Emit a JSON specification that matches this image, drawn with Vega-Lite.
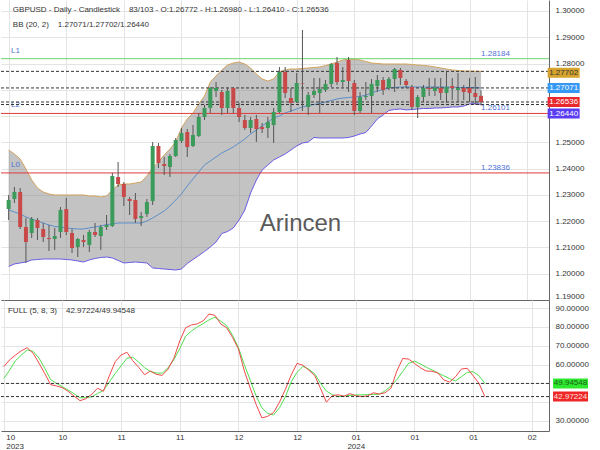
{
 "$schema": "https://vega.github.io/schema/vega-lite/v6.json",
 "padding": 0,
 "background": "white",
 "spacing": 0,
 "config": {
  "view": {"stroke": null},
  "font": "Liberation Sans",
  "axis": {"labelFont": "Liberation Sans", "labelFontSize": 8, "labelColor": "#333333", "gridColor": "#e4e4e4", "domainColor": "#666666", "ticks": false, "title": null, "labelOverlap": false, "labelBound": false}
 },
 "datasets": {
  "bars": [
   {"i":0,"o":1.22464,"h":1.22997,"l":1.22045,"c":1.22806,"u":1.24709,"m":1.22426,"b":1.20276,"k":58.8,"d":52.5},
   {"i":1,"o":1.22845,"h":1.23301,"l":1.22692,"c":1.23111,"u":1.24557,"m":1.22350,"b":1.20371,"k":62.4,"d":57},
   {"i":2,"o":1.23111,"h":1.23263,"l":1.21702,"c":1.21779,"u":1.24367,"m":1.22273,"b":1.20409,"k":65,"d":62},
   {"i":3,"o":1.21779,"h":1.22121,"l":1.20409,"c":1.21207,"u":1.23986,"m":1.22159,"b":1.20447,"k":67.3,"d":65},
   {"i":4,"o":1.21550,"h":1.22159,"l":1.21359,"c":1.22083,"u":1.23567,"m":1.22083,"b":1.20523,"k":68.9,"d":67.7},
   {"i":5,"o":1.22045,"h":1.22121,"l":1.21283,"c":1.21741,"u":1.23263,"m":1.22006,"b":1.20542,"k":66,"d":67},
   {"i":6,"o":1.21702,"h":1.21931,"l":1.21207,"c":1.21398,"u":1.23111,"m":1.21931,"b":1.20561,"k":60.8,"d":63.5},
   {"i":7,"o":1.21359,"h":1.21855,"l":1.20865,"c":1.21321,"u":1.23035,"m":1.21855,"b":1.20561,"k":55.2,"d":58},
   {"i":8,"o":1.21321,"h":1.21741,"l":1.20903,"c":1.21436,"u":1.22997,"m":1.21798,"b":1.20561,"k":49.3,"d":52},
   {"i":9,"o":1.21588,"h":1.22540,"l":1.21359,"c":1.22426,"u":1.22997,"m":1.21779,"b":1.20561,"k":48.6,"d":50},
   {"i":10,"o":1.22464,"h":1.22883,"l":1.21474,"c":1.21588,"u":1.22997,"m":1.21741,"b":1.20542,"k":47.7,"d":48.2},
   {"i":11,"o":1.21550,"h":1.21702,"l":1.20788,"c":1.20979,"u":1.22997,"m":1.21722,"b":1.20523,"k":45.7,"d":46.4},
   {"i":12,"o":1.21017,"h":1.21359,"l":1.20636,"c":1.21321,"u":1.22997,"m":1.21702,"b":1.20485,"k":43.2,"d":44.5},
   {"i":13,"o":1.21283,"h":1.21474,"l":1.21017,"c":1.21207,"u":1.22997,"m":1.21702,"b":1.20447,"k":40.8,"d":42.3},
   {"i":14,"o":1.21093,"h":1.21664,"l":1.20827,"c":1.21588,"u":1.22959,"m":1.21741,"b":1.20523,"k":41.8,"d":42.4},
   {"i":15,"o":1.21588,"h":1.21931,"l":1.21398,"c":1.21474,"u":1.22959,"m":1.21779,"b":1.20580,"k":44.2,"d":42.8},
   {"i":16,"o":1.21436,"h":1.21855,"l":1.20903,"c":1.21779,"u":1.22921,"m":1.21817,"b":1.20618,"k":47.4,"d":44.6},
   {"i":17,"o":1.21779,"h":1.22235,"l":1.21664,"c":1.21855,"u":1.22959,"m":1.21874,"b":1.20636,"k":45.8,"d":46.3},
   {"i":18,"o":1.21817,"h":1.23834,"l":1.21779,"c":1.23720,"u":1.23187,"m":1.21893,"b":1.20598,"k":54,"d":50.7},
   {"i":19,"o":1.23682,"h":1.24252,"l":1.23301,"c":1.23415,"u":1.23377,"m":1.21931,"b":1.20504,"k":61.5,"d":55.2},
   {"i":20,"o":1.23415,"h":1.23491,"l":1.22578,"c":1.22921,"u":1.23415,"m":1.21931,"b":1.20409,"k":65,"d":59.3},
   {"i":21,"o":1.22845,"h":1.22921,"l":1.22235,"c":1.22768,"u":1.23415,"m":1.21931,"b":1.20428,"k":66.5,"d":63.3},
   {"i":22,"o":1.22806,"h":1.23073,"l":1.21931,"c":1.22083,"u":1.23453,"m":1.21931,"b":1.20447,"k":62,"d":63.9},
   {"i":23,"o":1.22121,"h":1.22350,"l":1.21817,"c":1.22197,"u":1.23491,"m":1.21931,"b":1.20428,"k":58.5,"d":61.3},
   {"i":24,"o":1.22273,"h":1.22845,"l":1.22159,"c":1.22730,"u":1.23720,"m":1.22006,"b":1.20409,"k":54.6,"d":58.3},
   {"i":25,"o":1.22768,"h":1.25014,"l":1.22616,"c":1.24862,"u":1.24024,"m":1.22121,"b":1.20219,"k":56.5,"d":56.3},
   {"i":26,"o":1.24862,"h":1.24976,"l":1.24024,"c":1.24214,"u":1.24252,"m":1.22254,"b":1.20199,"k":54.8,"d":55.5},
   {"i":27,"o":1.24176,"h":1.24443,"l":1.23758,"c":1.24100,"u":1.24519,"m":1.22388,"b":1.20180,"k":54.2,"d":55.4},
   {"i":28,"o":1.24062,"h":1.24557,"l":1.23682,"c":1.24481,"u":1.24747,"m":1.22578,"b":1.20161,"k":57.5,"d":58.2},
   {"i":29,"o":1.24481,"h":1.25166,"l":1.24443,"c":1.25090,"u":1.25014,"m":1.22806,"b":1.20142,"k":63.3,"d":62.6},
   {"i":30,"o":1.25052,"h":1.25547,"l":1.24976,"c":1.25356,"u":1.25547,"m":1.23035,"b":1.20180,"k":72.5,"d":68.4},
   {"i":31,"o":1.25394,"h":1.25508,"l":1.24443,"c":1.24824,"u":1.25889,"m":1.23339,"b":1.20390,"k":79.5,"d":75},
   {"i":32,"o":1.24862,"h":1.25661,"l":1.24824,"c":1.25280,"u":1.26117,"m":1.23605,"b":1.20542,"k":81,"d":77.8},
   {"i":33,"o":1.25242,"h":1.26119,"l":1.25204,"c":1.25967,"u":1.26460,"m":1.23872,"b":1.20693,"k":81.6,"d":80},
   {"i":34,"o":1.25967,"h":1.26422,"l":1.25851,"c":1.26308,"u":1.26764,"m":1.24138,"b":1.20846,"k":83.2,"d":81.7},
   {"i":35,"o":1.26308,"h":1.27107,"l":1.26119,"c":1.27069,"u":1.27297,"m":1.24290,"b":1.21017,"k":86.8,"d":83.7},
   {"i":36,"o":1.26955,"h":1.27297,"l":1.26726,"c":1.27069,"u":1.27526,"m":1.24443,"b":1.21207,"k":86.1,"d":85.1},
   {"i":37,"o":1.26917,"h":1.26993,"l":1.26043,"c":1.26308,"u":1.27754,"m":1.24595,"b":1.21531,"k":81.5,"d":83},
   {"i":38,"o":1.26308,"h":1.27069,"l":1.26119,"c":1.26955,"u":1.27944,"m":1.24709,"b":1.21607,"k":79.5,"d":80.6},
   {"i":39,"o":1.27069,"h":1.27107,"l":1.26119,"c":1.26308,"u":1.28020,"m":1.24824,"b":1.21741,"k":74.4,"d":75.5},
   {"i":40,"o":1.26308,"h":1.26498,"l":1.25775,"c":1.25967,"u":1.28058,"m":1.24976,"b":1.22045,"k":68.3,"d":69},
   {"i":41,"o":1.25851,"h":1.26043,"l":1.25470,"c":1.25547,"u":1.27982,"m":1.25128,"b":1.22426,"k":56.7,"d":60},
   {"i":42,"o":1.25547,"h":1.25967,"l":1.25356,"c":1.25851,"u":1.27830,"m":1.25318,"b":1.23073,"k":47.6,"d":51.8},
   {"i":43,"o":1.25890,"h":1.26043,"l":1.25014,"c":1.25508,"u":1.27602,"m":1.25470,"b":1.23567,"k":38.9,"d":43.5},
   {"i":44,"o":1.25585,"h":1.25737,"l":1.25356,"c":1.25508,"u":1.27411,"m":1.25623,"b":1.23948,"k":31.6,"d":37},
   {"i":45,"o":1.25547,"h":1.25967,"l":1.25166,"c":1.25775,"u":1.27335,"m":1.25775,"b":1.24138,"k":32.5,"d":34},
   {"i":46,"o":1.25661,"h":1.26308,"l":1.24976,"c":1.26157,"u":1.27411,"m":1.25928,"b":1.24329,"k":34.5,"d":33.2},
   {"i":47,"o":1.26157,"h":1.27868,"l":1.26119,"c":1.27678,"u":1.27678,"m":1.26005,"b":1.24443,"k":40,"d":37},
   {"i":48,"o":1.27678,"h":1.27868,"l":1.26688,"c":1.26879,"u":1.27754,"m":1.26119,"b":1.24557,"k":46.8,"d":42.8},
   {"i":49,"o":1.26688,"h":1.27069,"l":1.26157,"c":1.26498,"u":1.27792,"m":1.26195,"b":1.24709,"k":54.5,"d":50.8},
   {"i":50,"o":1.26536,"h":1.27640,"l":1.26498,"c":1.27259,"u":1.27792,"m":1.26270,"b":1.24862,"k":60.6,"d":55.9},
   {"i":51,"o":1.27259,"h":1.29276,"l":1.26195,"c":1.27240,"u":1.27811,"m":1.26346,"b":1.24976,"k":59.6,"d":59},
   {"i":52,"o":1.26346,"h":1.26917,"l":1.26043,"c":1.26802,"u":1.27830,"m":1.26403,"b":1.25014,"k":57,"d":57.5},
   {"i":53,"o":1.26802,"h":1.27449,"l":1.26688,"c":1.26955,"u":1.27849,"m":1.26441,"b":1.25185,"k":54.2,"d":55},
   {"i":54,"o":1.26879,"h":1.27449,"l":1.26119,"c":1.27031,"u":1.27868,"m":1.26479,"b":1.25166,"k":47.2,"d":50},
   {"i":55,"o":1.26993,"h":1.27373,"l":1.26917,"c":1.27221,"u":1.27925,"m":1.26536,"b":1.25166,"k":40,"d":45.9},
   {"i":56,"o":1.27221,"h":1.28020,"l":1.27107,"c":1.27982,"u":1.27982,"m":1.26593,"b":1.25166,"k":43.5,"d":44},
   {"i":57,"o":1.28020,"h":1.28249,"l":1.27183,"c":1.27297,"u":1.28058,"m":1.26650,"b":1.25166,"k":43.9,"d":42.9},
   {"i":58,"o":1.27297,"h":1.27868,"l":1.27107,"c":1.27373,"u":1.28134,"m":1.26688,"b":1.25166,"k":43.2,"d":43.2},
   {"i":59,"o":1.28134,"h":1.28249,"l":1.26917,"c":1.27335,"u":1.28173,"m":1.26707,"b":1.25185,"k":44.5,"d":43.6},
   {"i":60,"o":1.27259,"h":1.27373,"l":1.26043,"c":1.26195,"u":1.28153,"m":1.26726,"b":1.25242,"k":43.4,"d":43.8},
   {"i":61,"o":1.26195,"h":1.26917,"l":1.26119,"c":1.26726,"u":1.28134,"m":1.26745,"b":1.25318,"k":43,"d":43.9},
   {"i":62,"o":1.26726,"h":1.27297,"l":1.26612,"c":1.26764,"u":1.28077,"m":1.26802,"b":1.25375,"k":43.3,"d":44},
   {"i":63,"o":1.26764,"h":1.27411,"l":1.26119,"c":1.27221,"u":1.28020,"m":1.26879,"b":1.25623,"k":45,"d":44.1},
   {"i":64,"o":1.27145,"h":1.27564,"l":1.26917,"c":1.27373,"u":1.28001,"m":1.26955,"b":1.25889,"k":44.3,"d":44.2},
   {"i":65,"o":1.27373,"h":1.27487,"l":1.26802,"c":1.26993,"u":1.27982,"m":1.27012,"b":1.26043,"k":45,"d":46},
   {"i":66,"o":1.27069,"h":1.27487,"l":1.26993,"c":1.27411,"u":1.27982,"m":1.27069,"b":1.26213,"k":47.4,"d":48.6},
   {"i":67,"o":1.27411,"h":1.27830,"l":1.26917,"c":1.27792,"u":1.27982,"m":1.27088,"b":1.26251,"k":56.5,"d":52},
   {"i":68,"o":1.27754,"h":1.27830,"l":1.27183,"c":1.27449,"u":1.27982,"m":1.27107,"b":1.26270,"k":63.2,"d":56.3},
   {"i":69,"o":1.27335,"h":1.27411,"l":1.27069,"c":1.27183,"u":1.27982,"m":1.27107,"b":1.26233,"k":62.9,"d":60.6},
   {"i":70,"o":1.27107,"h":1.27183,"l":1.26233,"c":1.26346,"u":1.27963,"m":1.27107,"b":1.26251,"k":60.6,"d":61.8},
   {"i":71,"o":1.26346,"h":1.26802,"l":1.25928,"c":1.26726,"u":1.27944,"m":1.27107,"b":1.26270,"k":58.3,"d":60.3},
   {"i":72,"o":1.26726,"h":1.27183,"l":1.26536,"c":1.27069,"u":1.27925,"m":1.27107,"b":1.26289,"k":56.5,"d":58.6},
   {"i":73,"o":1.27069,"h":1.27449,"l":1.26764,"c":1.27031,"u":1.27906,"m":1.27107,"b":1.26289,"k":56.4,"d":57.1},
   {"i":74,"o":1.26955,"h":1.27449,"l":1.26764,"c":1.27069,"u":1.27868,"m":1.27107,"b":1.26308,"k":55.5,"d":55.5},
   {"i":75,"o":1.27069,"h":1.27449,"l":1.26612,"c":1.26879,"u":1.27830,"m":1.27107,"b":1.26308,"k":51.8,"d":54},
   {"i":76,"o":1.26879,"h":1.27678,"l":1.26498,"c":1.27107,"u":1.27792,"m":1.27107,"b":1.26327,"k":50.7,"d":52.5},
   {"i":77,"o":1.27145,"h":1.27449,"l":1.26612,"c":1.27069,"u":1.27754,"m":1.27107,"b":1.26346,"k":53.5,"d":51.3},
   {"i":78,"o":1.26993,"h":1.27640,"l":1.26536,"c":1.27069,"u":1.27735,"m":1.27088,"b":1.26346,"k":57.6,"d":53.5},
   {"i":79,"o":1.27069,"h":1.27183,"l":1.26612,"c":1.26917,"u":1.27716,"m":1.27088,"b":1.26384,"k":58,"d":55.8},
   {"i":80,"o":1.27069,"h":1.27449,"l":1.26536,"c":1.26879,"u":1.27716,"m":1.27088,"b":1.26460,"k":54,"d":56.2},
   {"i":81,"o":1.26879,"h":1.27487,"l":1.26422,"c":1.26726,"u":1.27710,"m":1.27080,"b":1.26479,"k":50,"d":54},
   {"i":82,"o":1.26772,"h":1.26980,"l":1.26410,"c":1.26536,"u":1.27702,"m":1.27071,"b":1.26440,"k":42.97224,"d":49.94548}
  ],
  "levels": [
   {"name":"L1","v":1.28184},
   {"name":"L2","v":1.26101},
   {"name":"L0","v":1.23836}
  ],
  "current": [
   {"s":"upper","v":1.27702},
   {"s":"mid","v":1.27071},
   {"s":"close","v":1.26536},
   {"s":"lower","v":1.26440}
  ],
  "stochNow": [
   {"s":"D","v":49.94548},
   {"s":"K","v":42.97224}
  ]
 },
 "vconcat": [
  {
   "width": 548,
   "height": 300,
   "layer": [
    {
     "data": {"name": "bars"},
     "mark": {"type": "area", "color": "#888888", "opacity": 0.5},
     "encoding": {
      "x": {"field": "i", "type": "quantitative", "title": null,
            "scale": {"domain": [-0.46, 92.93], "nice": false, "zero": false},
            "axis": {"orient": "bottom", "values": [0,10,20,30,40,50,60,70,80,90], "tickCount": 50, "labels": false, "ticks": false, "domain": true, "grid": true, "title": null}},
      "y": {"field": "u", "type": "quantitative", "title": null,
            "scale": {"domain": [1.19, 1.30418], "nice": false, "zero": false},
            "axis": {"orient": "right", "values": [1.19,1.2,1.21,1.22,1.23,1.24,1.25,1.26,1.27,1.28,1.29,1.3], "tickCount": 50, "labelExpr": "datum.value == 1.26 || datum.value == 1.27 ? '' : format(datum.value, '.5f')", "labelOverlap": false, "labelFlush": true, "labelPadding": 6, "grid": true, "title": null}},
      "y2": {"field": "b"}
     }
    },
    {
     "data": {"values": [{}]},
     "mark": {"type": "text", "align": "center", "baseline": "middle", "fontSize": 24, "color": "#5a5a5a"},
     "encoding": {"x": {"datum": 50.66}, "y": {"datum": 1.21893}, "text": {"value": "Arincen"}}
    },
    {
     "data": {"name": "bars"},
     "mark": {"type": "line", "color": "#d3a35c", "strokeWidth": 1},
     "encoding": {"x": {"field": "i", "type": "quantitative", "title": null}, "y": {"field": "u", "type": "quantitative", "title": null}}
    },
    {
     "data": {"name": "bars"},
     "mark": {"type": "line", "color": "#6a5ce6", "strokeWidth": 1},
     "encoding": {"x": {"field": "i", "type": "quantitative", "title": null}, "y": {"field": "b", "type": "quantitative", "title": null}}
    },
    {
     "data": {"name": "bars"},
     "mark": {"type": "line", "color": "#5b8fc9", "strokeWidth": 1},
     "encoding": {"x": {"field": "i", "type": "quantitative", "title": null}, "y": {"field": "m", "type": "quantitative", "title": null}}
    },
    {
     "data": {"name": "levels"},
     "mark": {"type": "rule", "strokeWidth": 1},
     "encoding": {
      "y": {"field": "v", "type": "quantitative", "title": null},
      "color": {"field": "name", "type": "nominal", "scale": {"domain": ["L1","L2","L0"], "range": ["#6cd46c","#e03a3a","#e03a3a"]}, "legend": null}
     }
    },
    {
     "data": {"name": "levels"},
     "mark": {"type": "text", "align": "left", "baseline": "middle", "fontSize": 8, "color": "#4f72d6", "dy": -8},
     "encoding": {"x": {"datum": 0.4}, "y": {"field": "v", "type": "quantitative", "title": null}, "text": {"field": "name"}}
    },
    {
     "data": {"name": "levels"},
     "mark": {"type": "text", "align": "left", "baseline": "middle", "fontSize": 8, "color": "#4f72d6", "dy": -5},
     "encoding": {"x": {"datum": 82.0}, "y": {"field": "v", "type": "quantitative", "title": null}, "text": {"field": "v", "format": ".5f"}}
    },
    {
     "data": {"name": "current"},
     "mark": {"type": "rule", "color": "#333333", "strokeWidth": 1, "strokeDash": [3, 2]},
     "encoding": {"y": {"field": "v", "type": "quantitative", "title": null}}
    },
    {
     "data": {"name": "bars"},
     "mark": {"type": "rule", "color": "#555555", "strokeWidth": 1},
     "encoding": {"x": {"field": "i", "type": "quantitative", "title": null}, "y": {"field": "l", "type": "quantitative", "title": null}, "y2": {"field": "h"}}
    },
    {
     "data": {"name": "bars"},
     "mark": {"type": "bar", "width": 4},
     "encoding": {
      "x": {"field": "i", "type": "quantitative", "title": null},
      "y": {"field": "o", "type": "quantitative", "title": null},
      "y2": {"field": "c"},
      "color": {"condition": {"test": "datum.c >= datum.o", "value": "#3b9b5a"}, "value": "#c94848"}
     }
    },
    {
     "data": {"values": [{}]},
     "mark": {"type": "text", "align": "left", "baseline": "middle", "fontSize": 8, "color": "#333333"},
     "encoding": {"x": {"datum": 0.73}, "y": {"datum": 1.30037}, "text": {"value": "GBPUSD - Daily - Candlestick\u00a0\u00a0\u00a0 83/103 - O:1.26772 - H:1.26980 - L:1.26410 - C:1.26536"}}
    },
    {
     "data": {"values": [{}]},
     "mark": {"type": "text", "align": "left", "baseline": "middle", "fontSize": 8, "color": "#333333"},
     "encoding": {"x": {"datum": 0.73}, "y": {"datum": 1.29467}, "text": {"value": "BB (20, 2)\u00a0\u00a0\u00a0 1.27071/1.27702/1.26440"}}
    },
    {
     "data": {"values": [{}]},
     "mark": {"type": "tick", "orient": "horizontal", "size": 32, "thickness": 10, "color": "#d6a32c", "opacity": 1, "yOffset": 1.5},
     "encoding": {"x": {"datum": 96.34}, "y": {"datum": 1.27702}}
    },
    {
     "data": {"values": [{}]},
     "mark": {"type": "text", "align": "center", "baseline": "middle", "fontSize": 8, "color": "#333333", "yOffset": 1.5},
     "encoding": {"x": {"datum": 96.34}, "y": {"datum": 1.27702}, "text": {"value": "1.27702"}}
    },
    {
     "data": {"values": [{}]},
     "mark": {"type": "tick", "orient": "horizontal", "size": 32, "thickness": 10, "color": "#3598f5", "opacity": 1},
     "encoding": {"x": {"datum": 96.34}, "y": {"datum": 1.27071}}
    },
    {
     "data": {"values": [{}]},
     "mark": {"type": "text", "align": "center", "baseline": "middle", "fontSize": 8, "color": "#ffffff"},
     "encoding": {"x": {"datum": 96.34}, "y": {"datum": 1.27071}, "text": {"value": "1.27071"}}
    },
    {
     "data": {"values": [{}]},
     "mark": {"type": "tick", "orient": "horizontal", "size": 32, "thickness": 10, "color": "#e8282d", "opacity": 1},
     "encoding": {"x": {"datum": 96.34}, "y": {"datum": 1.26536}}
    },
    {
     "data": {"values": [{}]},
     "mark": {"type": "text", "align": "center", "baseline": "middle", "fontSize": 8, "color": "#ffffff"},
     "encoding": {"x": {"datum": 96.34}, "y": {"datum": 1.26536}, "text": {"value": "1.26536"}}
    },
    {
     "data": {"values": [{}]},
     "mark": {"type": "tick", "orient": "horizontal", "size": 32, "thickness": 10, "color": "#5a3df2", "opacity": 1, "yOffset": 9},
     "encoding": {"x": {"datum": 96.34}, "y": {"datum": 1.2644}}
    },
    {
     "data": {"values": [{}]},
     "mark": {"type": "text", "align": "center", "baseline": "middle", "fontSize": 8, "color": "#ffffff", "yOffset": 9},
     "encoding": {"x": {"datum": 96.34}, "y": {"datum": 1.2644}, "text": {"value": "1.26440"}}
    }
   ]
  },
  {
   "width": 548,
   "height": 131,
   "layer": [
    {
     "data": {"name": "bars"},
     "mark": {"type": "line", "color": "#4ee04e", "strokeWidth": 1},
     "encoding": {
      "x": {"field": "i", "type": "quantitative", "title": null,
            "scale": {"domain": [-0.46, 92.93], "nice": false, "zero": false},
            "axis": {"orient": "bottom", "values": [0,10,20,30,40,50,60,70,80,90], "tickCount": 50, "grid": true, "ticks": false, "domain": true, "labelPadding": 2, "labelLineHeight": 9, "labelFlush": 5, "labelFlushOffset": -2,
                     "labelExpr": "datum.value == 0 ? ['10','2023'] : datum.value == 60 ? ['01','2024'] : datum.value < 20 ? '10' : datum.value < 40 ? '11' : datum.value < 60 ? '12' : datum.value < 90 ? '01' : '02'", "title": null}},
      "y": {"field": "d", "type": "quantitative", "title": null,
            "scale": {"domain": [24.69, 94.25], "nice": false, "zero": false},
            "axis": {"orient": "right", "values": [30,40,50,60,70,80,90], "tickCount": 50, "labelExpr": "datum.value == 40 || datum.value == 50 ? '' : format(datum.value, '.5f')", "labelOverlap": false, "labelPadding": 6, "grid": true, "title": null}}
     }
    },
    {
     "data": {"name": "bars"},
     "mark": {"type": "line", "color": "#f04a4a", "strokeWidth": 1},
     "encoding": {"x": {"field": "i", "type": "quantitative", "title": null}, "y": {"field": "k", "type": "quantitative", "title": null}}
    },
    {
     "data": {"name": "stochNow"},
     "mark": {"type": "rule", "color": "#333333", "strokeWidth": 1, "strokeDash": [3, 2]},
     "encoding": {"y": {"field": "v", "type": "quantitative", "title": null}}
    },
    {
     "data": {"values": [{}]},
     "mark": {"type": "text", "align": "left", "baseline": "middle", "fontSize": 8, "color": "#333333"},
     "encoding": {"x": {"datum": 0.73}, "y": {"datum": 88.4}, "text": {"value": "FULL (5, 8, 3)\u00a0\u00a0\u00a0 42.97224/49.94548"}}
    },
    {
     "data": {"values": [{}]},
     "mark": {"type": "tick", "orient": "horizontal", "size": 35, "thickness": 10, "color": "#2ee82e", "opacity": 1},
     "encoding": {"x": {"datum": 96.6}, "y": {"datum": 49.94548}}
    },
    {
     "data": {"values": [{}]},
     "mark": {"type": "text", "align": "center", "baseline": "middle", "fontSize": 8, "color": "#1d5e1d"},
     "encoding": {"x": {"datum": 96.6}, "y": {"datum": 49.94548}, "text": {"value": "49.94548"}}
    },
    {
     "data": {"values": [{}]},
     "mark": {"type": "tick", "orient": "horizontal", "size": 35, "thickness": 10, "color": "#ee2626", "opacity": 1},
     "encoding": {"x": {"datum": 96.6}, "y": {"datum": 42.97224}}
    },
    {
     "data": {"values": [{}]},
     "mark": {"type": "text", "align": "center", "baseline": "middle", "fontSize": 8, "color": "#ffe0e0"},
     "encoding": {"x": {"datum": 96.6}, "y": {"datum": 42.97224}, "text": {"value": "42.97224"}}
    }
   ]
  }
 ]
}
